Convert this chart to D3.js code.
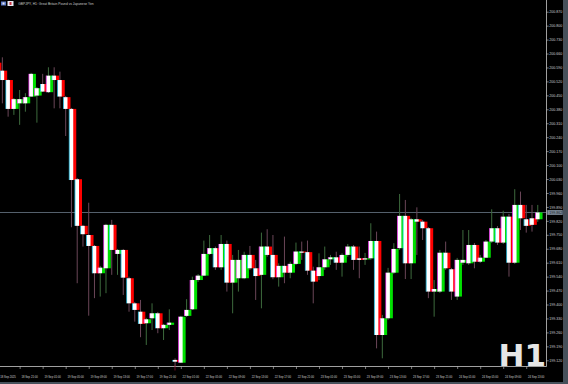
<!DOCTYPE html>
<html><head><meta charset="utf-8">
<script src="https://cdn.jsdelivr.net/npm/d3@7"></script>
<style>html,body{margin:0;padding:0;background:#000;overflow:hidden}svg{display:block}</style>
</head><body><svg id="c" width="568" height="384"></svg>
<script>
const opens = [200.614,200.574,200.527,200.382,200.410,200.410,200.444,200.449,200.507,200.466,200.549,200.527,200.441,200.382,200.029,199.795,199.749,199.694,199.557,199.582,199.800,199.654,199.674,199.532,199.406,199.364,199.306,199.331,199.356,199.281,199.298,199.122,199.108,199.343,199.376,199.523,199.545,199.654,199.683,199.587,199.704,199.510,199.532,199.532,199.649,199.582,199.549,199.691,199.649,199.537,199.594,199.560,199.604,199.666,199.663,199.570,199.543,199.587,199.627,199.637,199.610,199.649,199.691,199.632,199.627,199.632,199.719,199.247,199.331,199.560,199.683,199.845,199.607,199.828,199.816,199.783,199.465,199.465,199.660,199.577,199.440,199.610,199.607,199.699,199.615,199.635,199.716,199.783,199.711,199.841,199.610,199.900,199.828,199.833,199.828];
const highs = [200.641,200.641,200.530,200.437,200.477,200.461,200.563,200.492,200.558,200.591,200.591,200.569,200.447,200.387,200.035,199.800,199.911,199.699,199.594,199.805,199.825,199.679,199.679,199.540,199.413,199.423,199.333,199.406,199.363,199.303,199.376,199.130,199.343,199.427,199.540,199.553,199.721,199.749,199.691,199.749,199.721,199.649,199.674,199.665,199.694,199.624,199.761,199.778,199.749,199.607,199.741,199.615,199.711,199.716,199.721,199.590,199.657,199.691,199.649,199.665,199.657,199.704,199.699,199.691,199.659,199.808,199.766,199.348,199.584,199.708,199.955,199.925,199.835,199.888,199.825,199.789,199.523,199.674,199.716,199.584,199.634,199.774,199.774,199.709,199.649,199.724,199.878,199.794,199.871,199.855,199.979,199.967,199.900,199.900,199.900];
const lows = [200.568,200.410,200.343,200.352,200.302,200.368,200.442,200.313,200.467,200.462,200.385,200.385,200.246,199.788,199.507,199.691,199.344,199.432,199.440,199.457,199.549,199.549,199.448,199.364,199.314,199.236,199.197,199.272,199.256,199.222,199.272,199.092,199.107,199.338,199.373,199.513,199.543,199.649,199.574,199.574,199.465,199.356,199.465,199.527,199.574,199.423,199.381,199.640,199.527,199.490,199.507,199.532,199.599,199.624,199.549,199.406,199.523,199.574,199.599,199.574,199.540,199.640,199.574,199.532,199.599,199.624,199.180,199.130,199.323,199.553,199.674,199.528,199.528,199.649,199.724,199.432,199.339,199.458,199.574,199.423,199.423,199.599,199.599,199.582,199.609,199.634,199.709,199.699,199.704,199.540,199.604,199.774,199.761,199.766,199.815];
const closes = [200.574,200.527,200.382,200.431,200.431,200.441,200.558,200.486,200.469,200.549,200.527,200.444,200.382,200.025,199.795,199.753,199.694,199.557,199.585,199.800,199.674,199.674,199.535,199.406,199.373,199.303,199.326,199.356,199.281,199.298,199.309,199.113,199.339,199.373,199.523,199.545,199.654,199.683,199.587,199.704,199.510,199.624,199.624,199.649,199.582,199.543,199.691,199.649,199.537,199.594,199.560,199.604,199.666,199.663,199.570,199.515,199.587,199.627,199.637,199.610,199.649,199.691,199.624,199.624,199.632,199.719,199.247,199.331,199.560,199.679,199.845,199.607,199.828,199.816,199.783,199.465,199.478,199.660,199.582,199.465,199.624,199.624,199.699,199.615,199.635,199.716,199.783,199.711,199.841,199.610,199.900,199.833,199.795,199.800,199.862];
const priceTicks = [200.870,200.800,200.730,200.660,200.590,200.520,200.450,200.380,200.310,200.240,200.170,200.100,200.030,199.960,199.890,199.820,199.750,199.680,199.610,199.540,199.470,199.400,199.330,199.260,199.190,199.120];
const timeLabelIdx = [4,8,12,16,20,24,28,32,36,40,44,48,52,56,60,64,68,72,76,80,84,88,92];
const timeLabels = ["18 Sep 21:00","19 Sep 01:00","19 Sep 05:00","19 Sep 09:00","19 Sep 13:00","19 Sep 17:00","19 Sep 21:00","22 Sep 01:00","22 Sep 05:00","22 Sep 09:00","22 Sep 13:00","22 Sep 17:00","22 Sep 21:00","23 Sep 01:00","23 Sep 05:00","23 Sep 09:00","23 Sep 13:00","23 Sep 17:00","23 Sep 21:00","24 Sep 01:00","24 Sep 05:00","24 Sep 09:00","24 Sep 13:00"];
const firstLabel = "18 Sep 2025";
const currentPrice = 199.862;
const title = "GBPJPY, H1:  Great Britain Pound vs Japanese Yen";
const periodLabel = "H1";

const FONT = "'DejaVu Sans', sans-serif";
const SMALL = "'Liberation Sans', Arial, sans-serif";
const svg = d3.select("#c");
const W = 568, H = 384, plotR = 546.5, plotB = 366.5;
svg.append("rect").attr("width", W).attr("height", H).attr("fill", "#000");
svg.append("rect").attr("x", 563).attr("y", 0).attr("width", 5).attr("height", H).attr("fill", "#46505a");
svg.append("rect").attr("x", 0).attr("y", 382).attr("width", W).attr("height", 2).attr("fill", "#46505a");

const n = opens.length;
const x = d3.scaleLinear().domain([0, n - 1]).range([-3.4, -3.4 + (n - 1) * 5.757]);
const y = d3.scaleLinear().domain([199.120, 200.870]).range([360.3, 11.7]);

svg.append("defs").append("clipPath").attr("id", "plot").append("rect")
  .attr("x", 0).attr("y", 0).attr("width", plotR).attr("height", plotB);
const g = svg.append("g").attr("clip-path", "url(#plot)");

g.append("line").attr("x1", 0).attr("x2", plotR).attr("y1", y(currentPrice)).attr("y2", y(currentPrice))
  .attr("stroke", "#56626e").attr("stroke-width", 1);

const data = d3.range(n).map(i => ({i, o: opens[i], h: highs[i], l: lows[i], c: closes[i], bull: closes[i] >= opens[i]}));
const cg = g.selectAll("g.candle").data(data).join("g").attr("class", "candle");
cg.append("rect").attr("x", d => x(d.i) - 0.5).attr("width", 1)
  .attr("y", d => y(d.h)).attr("height", d => Math.max(1, y(d.l) - y(d.h)))
  .attr("fill", d => d.bull ? "#3d6a3d" : "#6a4658");
const bTop = d => Math.min(y(d.o), y(d.c));
const bH = d => Math.max(1.2, Math.abs(y(d.o) - y(d.c)));
cg.append("rect").attr("x", d => x(d.i) + 1.2).attr("width", 3.6)
  .attr("y", bTop).attr("height", bH).attr("fill", d => d.bull ? "#00e000" : "#ff0000");
cg.append("rect").attr("x", d => x(d.i) - 2.1).attr("width", 3.9)
  .attr("y", bTop).attr("height", bH).attr("fill", "#ffffff");
cg.append("rect").attr("x", d => x(d.i) - 2.6).attr("width", 0.7)
  .attr("y", bTop).attr("height", bH).attr("fill", d => d.bull ? "#ff3cff" : "#30d8ff");

svg.append("line").attr("x1", plotR).attr("x2", plotR).attr("y1", 0).attr("y2", plotB).attr("stroke", "#c8c8c8").attr("stroke-width", 0.8);
svg.append("line").attr("x1", 0).attr("x2", plotR).attr("y1", plotB).attr("y2", plotB).attr("stroke", "#c8c8c8").attr("stroke-width", 0.8);

// right price axis
const ya = svg.append("g").attr("transform", `translate(${plotR},0)`)
  .call(d3.axisRight(y).tickValues(priceTicks).tickSize(2.2).tickPadding(0.6).tickFormat(d3.format(".3f")));
ya.select(".domain").remove();
ya.selectAll("line").attr("stroke", "#c8c8c8").attr("stroke-width", 0.6);
ya.selectAll("text").attr("fill", "#cfcfcf").style("font-family", SMALL).style("font-size", "3.6px");

// current price label
const cy = y(currentPrice);
svg.append("rect").attr("x", 547.3).attr("y", cy - 2.4).attr("width", 15.4).attr("height", 4.8).attr("fill", "#7d8b99");
svg.append("text").attr("x", 549.2).attr("y", cy).attr("dy", "0.35em").text(d3.format(".3f")(currentPrice))
  .attr("fill", "#10161c").style("font-family", SMALL).style("font-size", "3.6px");

// bottom time axis
const xa = svg.append("g").attr("transform", `translate(0,${plotB})`)
  .call(d3.axisBottom(x).tickValues(timeLabelIdx).tickSize(2.5).tickFormat((d, k) => timeLabels[k]));
xa.select(".domain").remove();
xa.selectAll("line").attr("stroke", "#c8c8c8").attr("stroke-width", 0.6);
xa.selectAll("text").attr("text-anchor", "start").attr("x", 1.3).attr("y", 10.5).attr("dy", "0.35em")
  .attr("fill", "#cfcfcf").style("font-family", SMALL).style("font-size", "2.75px");
svg.append("text").attr("x", 0.3).attr("y", plotB + 10.5).attr("dy", "0.35em").text(firstLabel)
  .attr("fill", "#cfcfcf").style("font-family", SMALL).style("font-size", "2.75px");
svg.append("line").attr("x1", 175).attr("x2", 175).attr("y1", plotB - 1.5).attr("y2", plotB + 4).attr("stroke", "#8a1030").attr("stroke-width", 0.8);

// title + symbol icons
svg.append("rect").attr("x", 1).attr("y", 1.5).attr("width", 5).attr("height", 4).attr("fill", "#5a78c8");
svg.append("rect").attr("x", 2.5).attr("y", 2.5).attr("width", 2).attr("height", 2).attr("fill", "#e8e8e8");
svg.append("rect").attr("x", 7.5).attr("y", 1).attr("width", 6).attr("height", 5).attr("fill", "#e8e8f0");
svg.append("rect").attr("x", 9.5).attr("y", 2).attr("width", 2).attr("height", 3).attr("fill", "#c83040");
svg.append("text").attr("x", 18.3).attr("y", 3.4).attr("dy", "0.35em").text(title)
  .attr("fill", "#c8c8c8").style("font-family", SMALL).style("font-size", "3.3px");

// period watermark
svg.append("text").attr("x", 546).attr("y", 366).attr("text-anchor", "end").text(periodLabel)
  .attr("fill", "#e6e6e6").style("font-family", FONT).style("font-weight", "bold").style("font-size", "31px");
</script></body></html>
